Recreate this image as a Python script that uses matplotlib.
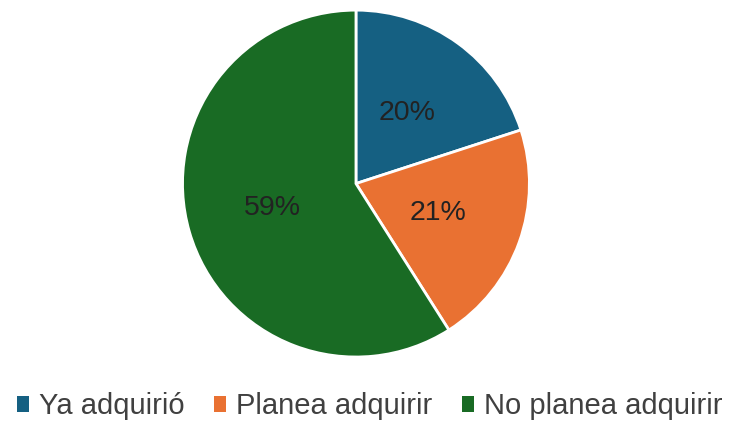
import matplotlib.pyplot as plt
from matplotlib.patches import Patch

labels = ["Ya adquirió", "Planea adquirir", "No planea adquirir"]
shares = [20, 21, 59]
colors = ["#156082", "#E97132", "#196B24"]

plt.rcParams["font.family"] = ["Liberation Sans", "DejaVu Sans"]

fig = plt.figure(figsize=(7.29, 4.22), dpi=100)
ax = fig.add_axes([0.4883 - 0.238, 0.565 - 0.411, 0.476, 0.822])

ax.pie(
    shares,
    colors=colors,
    startangle=90,
    counterclock=False,
    autopct="%1.0f%%",
    pctdistance=0.5,
    wedgeprops={"edgecolor": "white", "linewidth": 2},
    textprops={"fontsize": 20.5, "color": "#222222"},
)
ax.set_xlim(-1, 1)
ax.set_ylim(-1, 1)
ax.set_aspect("equal")

handles = [Patch(facecolor=c, edgecolor="none") for c in colors]
fig.legend(
    handles,
    labels,
    loc="center",
    bbox_to_anchor=(0.507, 0.037),
    ncol=3,
    frameon=False,
    fontsize=21,
    handlelength=0.42,
    handleheight=0.42,
    handletextpad=0.35,
    columnspacing=1.0,
    labelcolor="#404040",
)

fig.savefig("out.png", dpi=100)
